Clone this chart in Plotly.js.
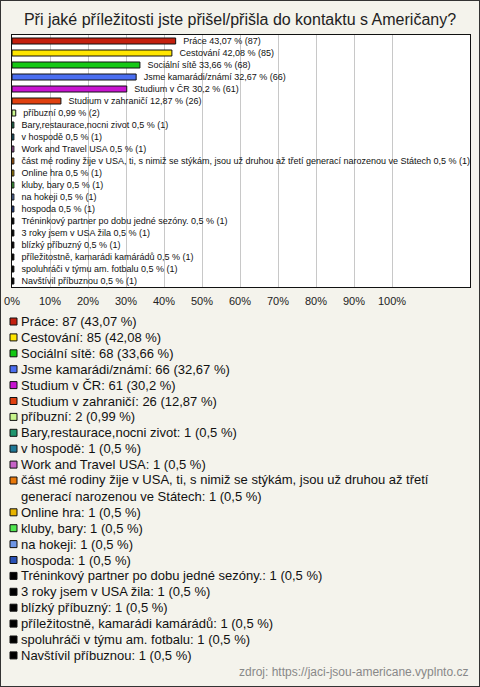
<!DOCTYPE html>
<html>
<head>
<meta charset="utf-8">
<script src="https://cdn.plot.ly/plotly-3.0.1.min.js"></script>
<style>html,body{margin:0;padding:0;background:#f4f3ec;}#chart{width:480px;height:687px;}</style>
</head>
<body>
<div id="chart"></div>
<script>
const categories = [
  "Práce", "Cestování", "Sociální sítě", "Jsme kamarádi/známí", "Studium v ČR",
  "Studium v zahraničí", "příbuzní", "Bary,restaurace,nocni zivot", "v hospodě",
  "Work and Travel USA",
  "část mé rodiny žije v USA, ti, s nimiž se stýkám, jsou už druhou až třetí generací narozenou ve Státech",
  "Online hra", "kluby, bary", "na hokeji", "hospoda",
  "Tréninkový partner po dobu jedné sezóny.", "3 roky jsem v USA žila", "blízký příbuzný",
  "příležitostně, kamarádi kamárádů", "spoluhráči v týmu am. fotbalu", "Navštívil příbuznou"
];
const counts = [87, 85, 68, 66, 61, 26, 2, 1, 1, 1, 1, 1, 1, 1, 1, 1, 1, 1, 1, 1, 1];
const percents = [43.07, 42.08, 33.66, 32.67, 30.2, 12.87, 0.99, 0.5, 0.5, 0.5, 0.5, 0.5, 0.5, 0.5, 0.5, 0.5, 0.5, 0.5, 0.5, 0.5, 0.5];
const colors = [
  "#c4200e", "#ffe600", "#14c814", "#4a6ef0", "#c814d0", "#e0400f", "#c8f58c",
  "#20966e", "#1e7896", "#c864c8", "#e8780a", "#e8b400", "#50e650", "#6e96e6",
  "#2850b4", "#000000", "#000000", "#000000", "#000000", "#000000", "#000000"
];
const xTickVals = [0, 10, 20, 30, 40, 50, 60, 70, 80, 90, 100];
const xTickText = ["0%", "10%", "20%", "30%", "40%", "50%", "60%", "70%", "80%", "90%", "100%"];
const sourceText = "zdroj: https://jaci-jsou-americane.vyplnto.cz";
const titleText = "Při jaké příležitosti jste přišel/přišla do kontaktu s Američany?";

const W = 480, H = 687;
const fmt = v => String(v).replace('.', ',');

// bar labels
const barText = categories.map((c, i) => '\u00a0\u00a0\u00a0' + c + ' ' + fmt(percents[i]) + ' % (' + counts[i] + ')');

// legend lines (wrapped)
function wrap(s, maxc) {
  const words = s.split(' ');
  const lines = [];
  let cur = '';
  words.forEach(w => {
    if ((cur + (cur ? ' ' : '') + w).length > maxc && cur) { lines.push(cur); cur = w; }
    else cur = cur + (cur ? ' ' : '') + w;
  });
  lines.push(cur);
  return lines;
}
const legendEntries = [];
let lineIdx = 0;
categories.forEach((c, i) => {
  const lines = wrap(c + ': ' + counts[i] + ' (' + fmt(percents[i]) + ' %)', 74);
  legendEntries.push({ line: lineIdx, nlines: lines.length, text: lines.join('<br>') });
  lineIdx += lines.length;
});
const totalLines = lineIdx;

// layout geometry (pixels)
const plotL = 12, plotR = 470, plotT = 35, plotB = 287;
const pxPer10 = 38;
const legTop = 321.5, legStep = 15.9;

const barTrace = {
  type: 'bar', orientation: 'h',
  x: percents, y: categories,
  marker: { color: colors, line: { color: '#111', width: 1 } },
  text: barText, textposition: 'outside', constraintext: 'none',
  cliponaxis: true,
  textfont: { family: 'Arial, Liberation Sans, sans-serif', size: 9, color: '#111' },
  hoverinfo: 'skip', xaxis: 'x', yaxis: 'y'
};

const legendMarkers = {
  type: 'scatter', mode: 'markers',
  x: legendEntries.map(() => 13.5),
  y: legendEntries.map(e => e.line),
  marker: { symbol: 'square', size: 7, color: colors, line: { color: '#111', width: 1 } },
  cliponaxis: false, hoverinfo: 'skip', xaxis: 'x2', yaxis: 'y2'
};

const annotations = legendEntries.map(e => ({
  xref: 'x2', yref: 'y2', x: 18.5, y: e.line + (e.nlines - 1) / 2,
  xanchor: 'left', yanchor: 'middle', align: 'left', showarrow: false,
  text: e.text,
  font: { family: 'Arial, Liberation Sans, sans-serif', size: 13, color: '#111' }
}));
annotations.push({
  xref: 'paper', yref: 'paper', x: 470 / W, y: 1 - 672 / H,
  xanchor: 'right', yanchor: 'middle', showarrow: false, text: sourceText,
  font: { family: 'Arial, Liberation Sans, sans-serif', size: 12, color: '#888' }
});

const legDomTop = 1 - (legTop - legStep / 2) / H;
const legDomBot = 1 - (legTop - legStep / 2 + legStep * totalLines) / H;

const layout = {
  width: W, height: H,
  margin: { l: 0, r: 0, t: 0, b: 0 },
  paper_bgcolor: '#f4f3ec', plot_bgcolor: 'rgba(0,0,0,0)',
  showlegend: false,
  barmode: 'overlay', bargap: 0.5,
  title: {
    text: titleText, x: 0.5, xanchor: 'center', y: 1 - 19 / H, yanchor: 'middle',
    font: { family: 'Arial, Liberation Sans, sans-serif', size: 16, color: '#222' }
  },
  xaxis: {
    domain: [plotL / W, plotR / W],
    range: [0, (plotR - plotL) / pxPer10 * 10],
    tickvals: xTickVals, ticktext: xTickText, ticks: '', ticklabelstandoff: 4,
    showgrid: true, gridcolor: '#c8c8c8', gridwidth: 1,
    zeroline: false, showline: true, mirror: true, linecolor: '#111', linewidth: 1,
    tickfont: { family: 'Arial, Liberation Sans, sans-serif', size: 11, color: '#222' },
    fixedrange: true, anchor: 'y'
  },
  yaxis: {
    domain: [1 - plotB / H, 1 - plotT / H],
    type: 'category', categoryorder: 'array', categoryarray: categories,
    autorange: 'reversed', showticklabels: false, ticks: '', showgrid: false,
    zeroline: false, showline: true, mirror: true, linecolor: '#111', linewidth: 1,
    fixedrange: true, anchor: 'x'
  },
  xaxis2: { domain: [0, 1], range: [0, W], visible: false, anchor: 'y2', fixedrange: true },
  yaxis2: { domain: [legDomBot, legDomTop], range: [totalLines - 0.5, -0.5], visible: false, anchor: 'x2', fixedrange: true },
  shapes: [
    { type: 'rect', xref: 'x domain', yref: 'y domain', x0: 0, x1: 1, y0: 0, y1: 1,
      fillcolor: '#ffffff', line: { width: 0 }, layer: 'below' },
    { type: 'rect', xref: 'paper', yref: 'paper', x0: 0, x1: 1, y0: 0, y1: 1,
      line: { color: '#333', width: 2 }, fillcolor: 'rgba(0,0,0,0)', layer: 'above' }
  ],
  annotations: annotations
};

Plotly.newPlot('chart', [barTrace, legendMarkers], layout, { displayModeBar: false, staticPlot: true });
</script>
</body>
</html>
